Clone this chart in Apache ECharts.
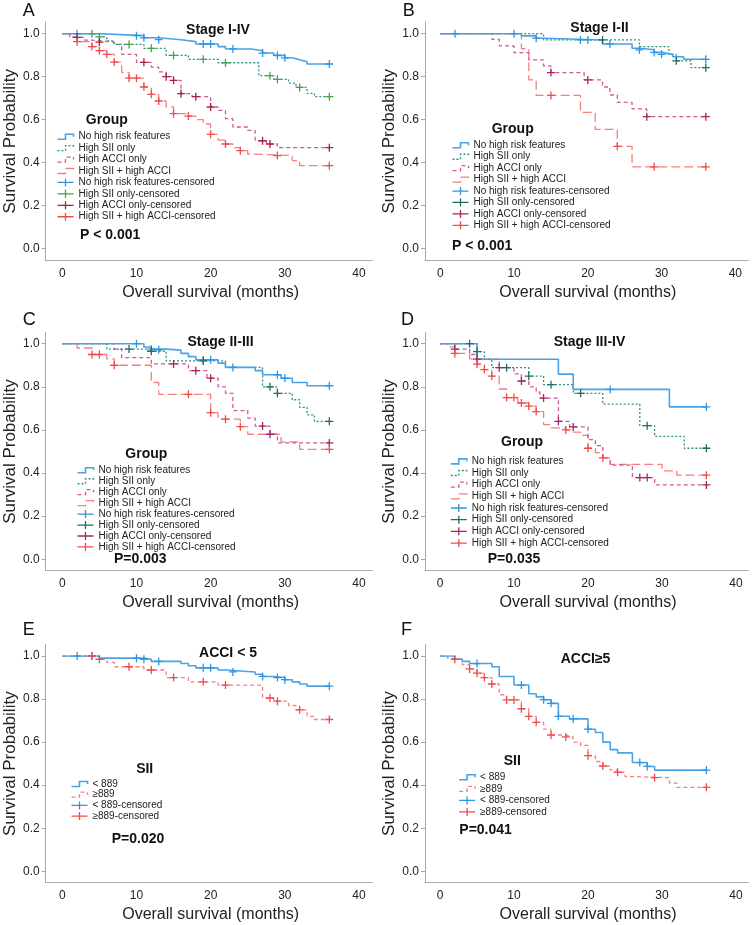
<!DOCTYPE html>
<html><head><meta charset="utf-8">
<script src="https://cdn.jsdelivr.net/npm/echarts/dist/echarts.min.js"></script>
<style>html,body{margin:0;padding:0;background:#fff}#c{width:753px;height:925px}</style>
</head><body><div id="c"></div>
<script>
// ---------- tick labels / categories ----------
const xTickValues = [0, 10, 20, 30, 40];
const yTickValues = [0, 0.2, 0.4, 0.6, 0.8, 1.0];
const groupNames = ['No high risk features', 'High SII only', 'High ACCI only', 'High SII + high ACCI'];
const siiNames = ['< 889', '≥889'];
const panelIds = ['A', 'B', 'C', 'D', 'E', 'F'];
const panelTitles = ['Stage I-IV', 'Stage I-II', 'Stage II-III', 'Stage III-IV', 'ACCI < 5', 'ACCI≥5'];
const legendTitles = ['Group', 'Group', 'Group', 'Group', 'SII', 'SII'];
const pValues = ['P < 0.001', 'P < 0.001', 'P=0.003', 'P=0.035', 'P=0.020', 'P=0.041'];

// ---------- series values [month, survival] ----------
// Panel A
const A_noRisk = [[0,1],[5,0.991],[11,0.981],[13,0.972],[16,0.963],[18,0.952],[21,0.94],[22,0.929],[25.5,0.921],[27,0.91],[28.5,0.899],[30,0.888],[31,0.879],[32,0.87],[33,0.859],[36,0.859]];
const A_noRiskCens = [[2,1],[10,0.991],[11,0.981],[13,0.972],[19,0.952],[20,0.952],[23,0.929],[27,0.91],[29,0.899],[30,0.888],[36,0.859]];
const A_highSII = [[0,1],[5,0.985],[6,0.967],[7,0.95],[11,0.932],[14,0.899],[17,0.881],[21,0.865],[26.5,0.805],[28.5,0.788],[30.5,0.77],[31.5,0.75],[33,0.722],[34,0.707],[36,0.707]];
const A_highSIICens = [[4,1],[5,0.985],[9,0.95],[12,0.932],[15,0.899],[19,0.881],[22,0.865],[28,0.805],[29,0.788],[32,0.75],[36,0.707]];
const A_highACCI = [[0,1],[1,0.983],[3,0.97],[4,0.961],[7,0.95],[8,0.904],[10,0.867],[12,0.845],[13,0.822],[14,0.8],[15,0.783],[16,0.721],[17.5,0.707],[20,0.659],[21,0.643],[22,0.605],[23,0.566],[25,0.55],[26,0.502],[27.5,0.487],[29,0.47],[36,0.47]];
const A_highACCICens = [[2,0.983],[5,0.961],[11,0.867],[14,0.8],[15,0.783],[16,0.721],[18,0.707],[20,0.659],[27,0.502],[28,0.487],[36,0.47]];
const A_both = [[0,1],[1,0.985],[2,0.963],[4,0.94],[5,0.921],[6,0.904],[7,0.868],[8,0.819],[9,0.793],[11,0.752],[12,0.718],[13,0.687],[14,0.66],[15,0.628],[17,0.617],[18,0.6],[19,0.58],[20,0.532],[21,0.505],[22,0.487],[23,0.47],[24,0.456],[25,0.44],[26,0.433],[31,0.41],[32,0.386],[36,0.386]];
const A_bothCens = [[2,0.963],[4,0.94],[5,0.921],[6,0.904],[7,0.868],[9,0.793],[10,0.793],[11,0.752],[12,0.718],[13,0.687],[15,0.628],[17,0.617],[20,0.532],[22,0.487],[24,0.456],[29,0.433],[36,0.386]];
// Panel B
const B_noRisk = [[0,1],[11,0.99],[13,0.979],[14,0.971],[22,0.952],[26,0.932],[27,0.925],[29,0.913],[30,0.904],[31.5,0.893],[33,0.881],[36,0.881]];
const B_noRiskCens = [[2,1],[10,1],[13,0.979],[19,0.971],[20,0.971],[23,0.952],[27,0.925],[29,0.913],[30,0.904],[36,0.881]];
const B_highSII = [[0,1],[14,0.971],[27,0.94],[31,0.904],[32,0.874],[34,0.842],[36,0.842]];
const B_highSIICens = [[22,0.971],[32,0.874],[36,0.842]];
const B_highACCI = [[0,1],[7,0.974],[8,0.943],[10,0.912],[12,0.878],[14,0.85],[15,0.819],[19.5,0.785],[22,0.752],[23,0.715],[24,0.681],[26,0.65],[28,0.614],[36,0.614]];
const B_highACCICens = [[15,0.819],[20,0.785],[28,0.614],[36,0.614]];
const B_both = [[0,1],[11,0.93],[12,0.785],[13,0.713],[19,0.634],[21,0.555],[24,0.476],[26,0.381],[36,0.381]];
const B_bothCens = [[15,0.713],[24,0.476],[29,0.381],[36,0.381]];
// Panel C
const C_noRisk = [[0,1],[11,0.985],[12,0.975],[14,0.97],[16,0.955],[17,0.94],[18,0.925],[21,0.91],[22,0.89],[26,0.875],[27,0.856],[29.5,0.84],[31,0.82],[33,0.805],[36,0.805]];
const C_noRiskCens = [[10,1],[12,0.975],[13,0.972],[19,0.925],[20,0.925],[23,0.89],[29,0.856],[30,0.84],[36,0.805]];
const C_highSII = [[0,1],[6,0.975],[11.5,0.965],[14,0.92],[22,0.89],[27,0.8],[29,0.77],[31,0.74],[32,0.705],[33,0.67],[34,0.64],[36,0.64]];
const C_highSIICens = [[9,0.975],[12,0.965],[19,0.92],[28,0.8],[29,0.77],[36,0.64]];
const C_highACCI = [[0,1],[7,0.975],[8,0.935],[12,0.906],[17,0.875],[19.5,0.84],[21,0.8],[22,0.77],[23,0.69],[25,0.655],[26,0.618],[28,0.58],[29,0.54],[36,0.54]];
const C_highACCICens = [[15,0.906],[18,0.875],[20,0.84],[27,0.618],[28,0.58],[36,0.54]];
const C_both = [[0,1],[2,0.98],[4,0.95],[6,0.93],[7,0.9],[12,0.82],[13,0.765],[20,0.68],[21,0.65],[24,0.615],[25,0.58],[29.5,0.545],[32,0.51],[36,0.51]];
const C_bothCens = [[4,0.95],[5,0.95],[7,0.9],[17,0.765],[20,0.68],[22,0.65],[24,0.615],[36,0.51]];
// Panel D
const D_noRisk = [[0,1],[5,0.928],[16,0.859],[18,0.788],[31,0.707],[36,0.707]];
const D_noRiskCens = [[23,0.788],[36,0.707]];
const D_highSII = [[0,1],[5,0.963],[6,0.928],[7,0.889],[12,0.85],[14,0.81],[18,0.77],[22,0.72],[27,0.62],[29,0.57],[33,0.515],[36,0.515]];
const D_highSIICens = [[4,1],[5,0.963],[9,0.889],[12,0.85],[15,0.81],[19,0.77],[28,0.62],[36,0.515]];
const D_highACCI = [[0,1],[2,0.975],[4,0.95],[5,0.928],[8,0.889],[10,0.86],[11,0.827],[12,0.8],[13,0.776],[13.5,0.748],[16,0.64],[17.5,0.614],[20,0.555],[21,0.527],[22,0.47],[23,0.437],[26,0.379],[29,0.345],[36,0.345]];
const D_highACCICens = [[2,0.975],[5,0.928],[8,0.889],[11,0.827],[14,0.748],[16,0.64],[18,0.614],[27,0.379],[28,0.379],[36,0.345]];
const D_both = [[0,1],[1,0.985],[2,0.955],[4,0.93],[5,0.905],[6,0.88],[7,0.85],[8,0.79],[9,0.75],[10.5,0.725],[12,0.71],[13,0.685],[14,0.625],[15,0.61],[17,0.6],[18,0.59],[19,0.575],[20,0.515],[21,0.495],[22,0.47],[23,0.44],[30,0.41],[32,0.39],[36,0.39]];
const D_bothCens = [[2,0.955],[5,0.905],[6,0.88],[7,0.85],[9,0.75],[10,0.75],[11,0.725],[12,0.71],[13,0.685],[17,0.6],[20,0.515],[22,0.47],[36,0.39]];
// Panel E
const E_low = [[0,1],[5,0.99],[11,0.985],[12,0.975],[16,0.965],[17,0.955],[18,0.945],[21,0.935],[22,0.926],[26,0.915],[27,0.905],[28.5,0.9],[30,0.89],[31,0.88],[32,0.87],[33,0.86],[36,0.86]];
const E_lowCens = [[2,1],[4,1],[10,0.99],[11,0.985],[13,0.975],[19,0.945],[20,0.945],[23,0.926],[27,0.905],[29,0.9],[30,0.89],[36,0.86]];
const E_high = [[0,1],[5,0.985],[6,0.97],[7,0.95],[11,0.935],[14,0.9],[17,0.88],[21,0.865],[27,0.805],[28.5,0.79],[30.5,0.77],[31.5,0.75],[33,0.72],[34,0.705],[36,0.705]];
const E_highCens = [[4,1],[5,0.985],[9,0.95],[12,0.935],[15,0.9],[19,0.88],[22,0.865],[28,0.805],[29,0.79],[32,0.75],[36,0.705]];
// Panel F
const F_low = [[0,1],[2,0.985],[3,0.975],[4,0.965],[7,0.95],[8,0.905],[10,0.865],[12,0.825],[13,0.81],[14,0.797],[15,0.78],[16,0.72],[17.5,0.708],[20,0.66],[21,0.645],[22,0.6],[23,0.565],[24,0.55],[26,0.505],[28,0.487],[29,0.47],[36,0.47]];
const F_lowCens = [[5,0.965],[11,0.865],[14,0.797],[15,0.78],[16,0.72],[18,0.708],[20,0.66],[27,0.505],[28,0.487],[36,0.47]];
const F_high = [[0,1],[1,0.99],[2,0.985],[3,0.96],[4,0.94],[5,0.92],[6,0.9],[7,0.87],[8,0.82],[9,0.796],[11,0.755],[12,0.72],[13,0.692],[14,0.66],[15,0.633],[17,0.624],[18,0.6],[19,0.585],[20,0.537],[21,0.51],[22,0.489],[23,0.47],[24,0.46],[25,0.44],[26,0.435],[31,0.41],[32,0.39],[36,0.39]];
const F_highCens = [[2,0.985],[4,0.94],[5,0.92],[6,0.9],[7,0.87],[9,0.796],[10,0.796],[11,0.755],[12,0.72],[13,0.692],[15,0.633],[17,0.624],[20,0.537],[22,0.489],[24,0.46],[29,0.435],[36,0.39]];

// ---------- styling / layout ----------
const FONT = '"Liberation Sans", Arial, Helvetica, sans-serif';
const COL = {
  none: '#4aa3e7', noneCens: '#2f95e2',
  sii: '#2f8f81', siiCensA: '#4aa24a', siiCens: '#1f6e62',
  acci: '#d05a97', acciCensA: '#a6223d', acciCens: '#a1265f',
  both: '#f5807f', bothCens: '#f04b4b'
};
const DASH = { solid: 'solid', dot: [2, 2], dash: [4, 3], long: [9, 4] };

const layout = {
  A: { data: [62.3, 33.7, 296.7, 215], frame: [45.7, 21.7, 326.6, 239], title: [218, 30], grp: [106.8, 120], p: [80, 234.7], letter: [22.7, 11], legend: [56.7, 131, 11.43] },
  B: { data: [440.3, 33.7, 295, 215], frame: [425, 21.7, 323.3, 239], title: [599.5, 28.5], grp: [512.7, 129], p: [452, 246.2], letter: [402.7, 11], legend: [451.7, 139.6, 11.43] },
  C: { data: [62.3, 343.7, 296.7, 215.6], frame: [45.7, 332.3, 326.6, 238.4], title: [220.5, 342.3], grp: [146.3, 454.3], p: [114, 559.3], letter: [22.7, 320.5], legend: [76.7, 464.8, 10.95] },
  D: { data: [440, 343.7, 296, 215.6], frame: [425, 332.3, 323.3, 238.4], title: [589.5, 341.7], grp: [522, 442.3], p: [487.7, 559], letter: [401, 320.5], legend: [450, 455.5, 11.67] },
  E: { data: [62.3, 656, 296.7, 215.3], frame: [45.7, 644.3, 326.6, 238.4], title: [228, 653.2], grp: [144.7, 769], p: [111.7, 838.7], letter: [22.7, 630], legend: [70.7, 778.7, 10.67] },
  F: { data: [440, 656, 296, 215.3], frame: [425, 644.3, 323.3, 238.4], title: [585.5, 658.8], grp: [512.3, 760.8], p: [459.3, 830.3], letter: [401, 630], legend: [458.3, 771.5, 11.56] }
};

// group definitions per panel: [name, line data, censor data, line colour, dash, censor colour]
const panelGroups = {
  A: [[groupNames[0], A_noRisk, A_noRiskCens, COL.none, 'solid', COL.noneCens],
      [groupNames[1], A_highSII, A_highSIICens, COL.sii, 'dot', COL.siiCensA],
      [groupNames[2], A_highACCI, A_highACCICens, COL.acci, 'dash', COL.acciCensA],
      [groupNames[3], A_both, A_bothCens, COL.both, 'long', COL.bothCens]],
  B: [[groupNames[0], B_noRisk, B_noRiskCens, COL.none, 'solid', COL.noneCens],
      [groupNames[1], B_highSII, B_highSIICens, COL.sii, 'dot', COL.siiCens],
      [groupNames[2], B_highACCI, B_highACCICens, COL.acci, 'dash', COL.acciCens],
      [groupNames[3], B_both, B_bothCens, COL.both, 'long', COL.bothCens]],
  C: [[groupNames[0], C_noRisk, C_noRiskCens, COL.none, 'solid', COL.noneCens],
      [groupNames[1], C_highSII, C_highSIICens, COL.sii, 'dot', COL.siiCens],
      [groupNames[2], C_highACCI, C_highACCICens, COL.acci, 'dash', COL.acciCens],
      [groupNames[3], C_both, C_bothCens, COL.both, 'long', COL.bothCens]],
  D: [[groupNames[0], D_noRisk, D_noRiskCens, COL.none, 'solid', COL.noneCens],
      [groupNames[1], D_highSII, D_highSIICens, COL.sii, 'dot', COL.siiCens],
      [groupNames[2], D_highACCI, D_highACCICens, COL.acci, 'dash', COL.acciCens],
      [groupNames[3], D_both, D_bothCens, COL.both, 'long', COL.bothCens]],
  E: [[siiNames[0], E_low, E_lowCens, COL.none, 'solid', COL.noneCens],
      [siiNames[1], E_high, E_highCens, COL.both, 'dash', COL.bothCens]],
  F: [[siiNames[0], F_low, F_lowCens, COL.none, 'solid', COL.noneCens],
      [siiNames[1], F_high, F_highCens, COL.both, 'dash', COL.bothCens]]
};

const CROSS = 'path://M3.35,0H4.65V3.35H8V4.65H4.65V8H3.35V4.65H0V3.35H3.35Z';
const STEP_ICON = 'path://M0,5H8V0H16V2.5';
const CENS_ICON = 'path://M0,3.35H7.35V0H8.65V3.35H16V4.65H8.65V8H7.35V4.65H0Z';

const grids = [], xAxes = [], yAxes = [], series = [], legends = [], graphics = [];
const axisGray = '#a9a9a9';

panelIds.forEach((id, pi) => {
  const L = layout[id];
  const [dl, dt, dw, dh] = L.data;
  const [fl, ft, fw, fh] = L.frame;
  const yOff = dl - fl;
  const xOff = (ft + fh) - (dt + dh);
  // frame grid (axis lines)
  const fg = grids.length;
  grids.push({ left: fl, top: ft, width: fw, height: fh, outerBoundsMode: 'none', containLabel: false });
  xAxes.push({ gridIndex: fg, type: 'value', min: 0, max: 1, axisLine: { show: true, onZero: false, lineStyle: { color: axisGray, width: 1 } }, axisTick: { show: false }, axisLabel: { show: false }, splitLine: { show: false } });
  yAxes.push({ gridIndex: fg, type: 'value', min: 0, max: 1, axisLine: { show: true, onZero: false, lineStyle: { color: axisGray, width: 1 } }, axisTick: { show: false }, axisLabel: { show: false }, splitLine: { show: false } });
  // data grid
  const dg = grids.length;
  grids.push({ left: dl, top: dt, width: dw, height: dh, outerBoundsMode: 'none', containLabel: false });
  const xi = xAxes.length;
  xAxes.push({
    gridIndex: dg, type: 'value', min: xTickValues[0], max: xTickValues[xTickValues.length - 1], interval: xTickValues[1] - xTickValues[0],
    offset: xOff, axisLine: { show: false, onZero: false }, axisTick: { show: false }, splitLine: { show: false },
    axisLabel: { margin: 7, fontSize: 12, color: '#222', fontFamily: FONT },
    name: 'Overall survival (months)', nameLocation: 'middle', nameGap: 24, nameMoveOverlap: false,
    nameTextStyle: { fontSize: 16, color: '#222', fontFamily: FONT }
  });
  const yi = yAxes.length;
  yAxes.push({
    gridIndex: dg, type: 'value', min: yTickValues[0], max: yTickValues[yTickValues.length - 1], interval: yTickValues[1] - yTickValues[0],
    offset: yOff, axisLine: { show: false, onZero: false }, splitLine: { show: false },
    axisTick: { show: true, length: 4, lineStyle: { color: axisGray } },
    axisLabel: { margin: 6, fontSize: 12, color: '#222', fontFamily: FONT, formatter: v => v.toFixed(1) },
    name: 'Survival Probability', nameLocation: 'middle', nameGap: 27, nameMoveOverlap: false,
    nameTextStyle: { fontSize: 17, color: '#222', fontFamily: FONT }
  });

  const groups = panelGroups[id];
  const lineLegend = [], censLegend = [];
  groups.forEach((g, gi) => {
    const [nm, lineData, censData, lc, dash, cc] = g;
    const lname = id + '|' + nm;
    const cname = id + '|' + nm + '-censored';
    const lw = dash === 'solid' ? 1.6 : 1.3;
    series.push({
      name: lname, type: 'line', step: 'end', xAxisIndex: xi, yAxisIndex: yi, data: lineData,
      symbol: 'none', showSymbol: false, silent: true, z: 3 + (groups.length - gi),
      lineStyle: { color: lc, width: lw, type: DASH[dash] }, itemStyle: { color: lc }
    });
    series.push({
      name: cname, type: 'scatter', xAxisIndex: xi, yAxisIndex: yi, data: censData,
      symbol: CROSS, symbolSize: 8, silent: true, z: 10,
      itemStyle: { color: cc, opacity: 1 }
    });
    lineLegend.push({ name: lname, icon: STEP_ICON, itemStyle: { color: 'transparent', borderColor: lc, borderWidth: lw, borderType: DASH[dash] === 'solid' ? 'solid' : DASH[dash], opacity: 1 } });
    censLegend.push({ name: cname, icon: CENS_ICON, itemStyle: { color: cc, borderWidth: 0, opacity: 1 } });
  });
  const [ll, lt, lh] = L.legend;
  legends.push({
    orient: 'vertical', left: ll, top: lt, padding: 0, itemGap: 0, itemWidth: 16, itemHeight: 8,
    selectedMode: false, data: lineLegend.concat(censLegend),
    formatter: n => n.slice(n.indexOf('|') + 1),
    textStyle: { fontSize: 10, color: '#222', fontFamily: FONT, lineHeight: lh }
  });

  const txt = (x, y, text, font, align) => ({
    type: 'text', x: x, y: y, silent: true, z: 100,
    style: { text: text, font: font, fill: '#111', align: align, verticalAlign: 'middle', textAlign: align, textVerticalAlign: 'middle' }
  });
  graphics.push(txt(L.title[0], L.title[1], panelTitles[pi], 'bold 14px ' + FONT, 'center'));
  graphics.push(txt(L.grp[0], L.grp[1], legendTitles[pi], 'bold 14px ' + FONT, 'center'));
  graphics.push(txt(L.p[0], L.p[1], pValues[pi], 'bold 14px ' + FONT, 'left'));
  graphics.push(txt(L.letter[0], L.letter[1], id, '18px ' + FONT, 'left'));
});

const chart = echarts.init(document.getElementById('c'), null, { renderer: 'canvas' });
chart.setOption({
  animation: false,
  backgroundColor: '#ffffff',
  textStyle: { fontFamily: FONT },
  grid: grids, xAxis: xAxes, yAxis: yAxes, series: series, legend: legends,
  graphic: { elements: graphics }
});
</script></body></html>
